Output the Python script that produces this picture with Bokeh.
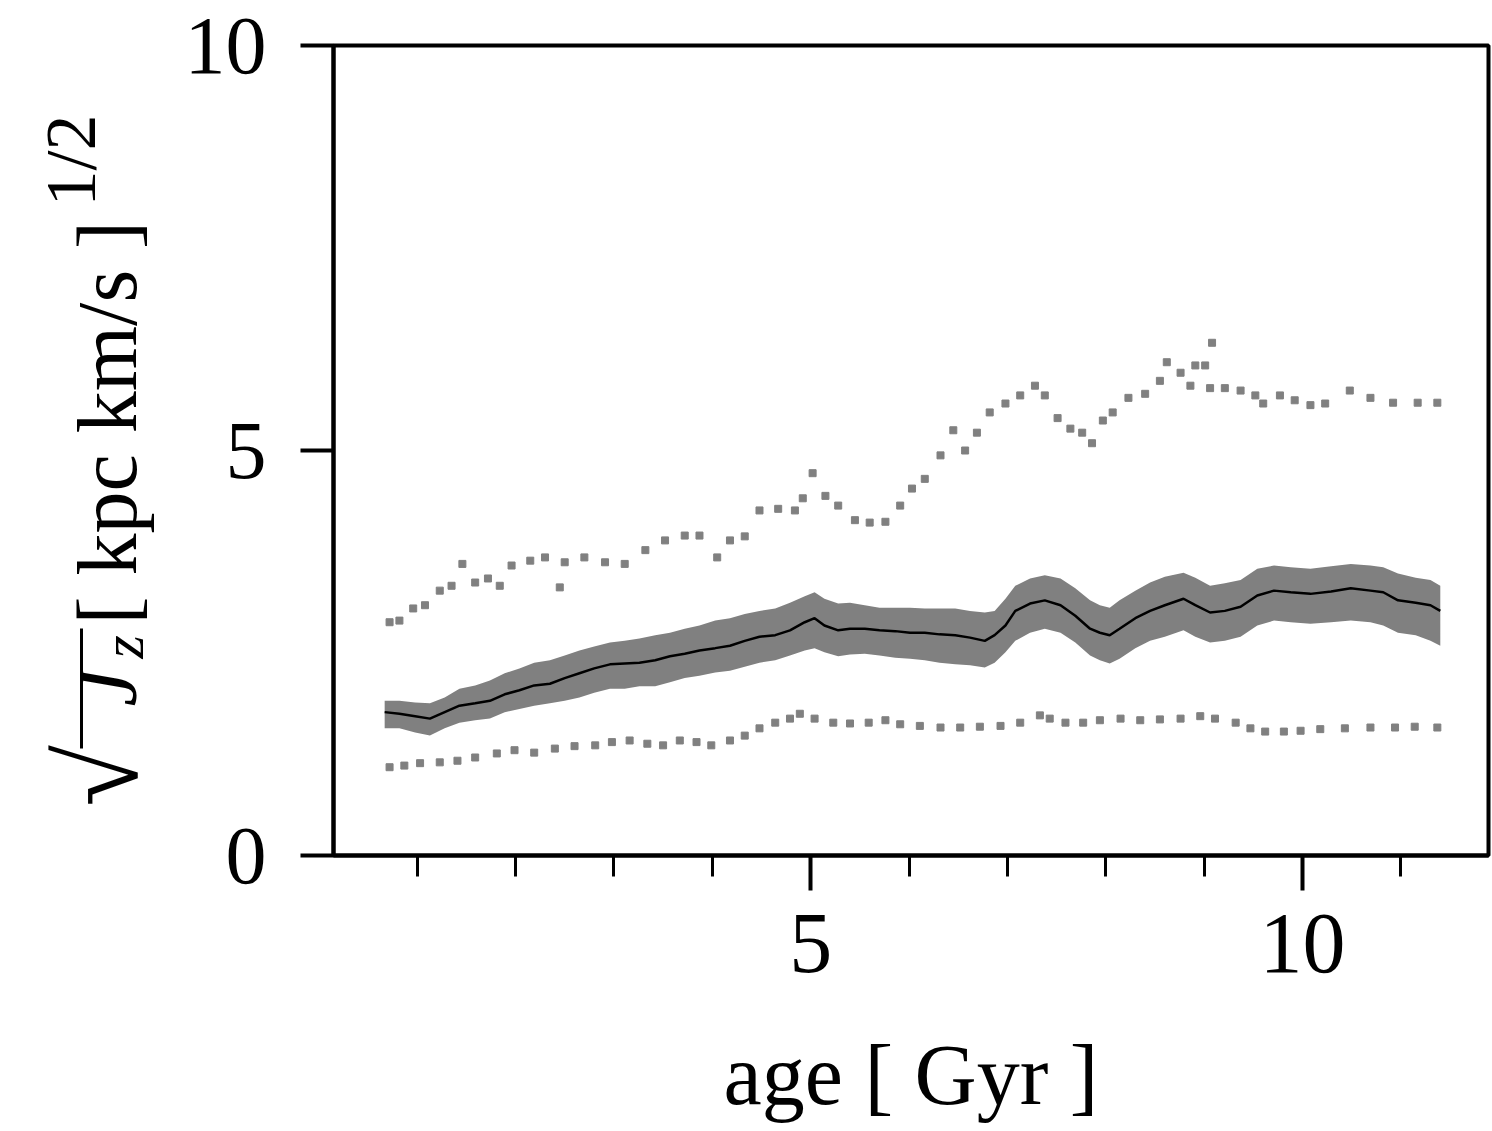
import math
from bokeh.plotting import figure
from bokeh.layouts import row
from bokeh.models import FixedTicker, Range1d
from bokeh.core.properties import value
from bokeh.embed import file_html
from bokeh.resources import INLINE

# ---------------- data ----------------
age_med = [0.67, 0.82, 0.98, 1.13, 1.28, 1.43, 1.59, 1.74, 1.89, 2.04,
           2.19, 2.35, 2.50, 2.65, 2.80, 2.96, 3.11, 3.26, 3.42, 3.57,
           3.72, 3.87, 4.03, 4.18, 4.33, 4.48, 4.64, 4.79, 4.94, 5.04,
           5.14, 5.28, 5.40, 5.55, 5.70, 5.86, 6.01, 6.16, 6.31, 6.47,
           6.62, 6.77, 6.87, 6.98, 7.08, 7.23, 7.38, 7.54, 7.69, 7.84,
           7.94, 8.04, 8.14, 8.30, 8.45, 8.60, 8.79, 8.91, 9.06, 9.21,
           9.37, 9.54, 9.71, 9.88, 10.08, 10.29, 10.49, 10.69, 10.82, 10.97,
           11.15, 11.30, 11.40]
sqrtjz_med = [1.77, 1.75, 1.72, 1.69, 1.77, 1.85, 1.88, 1.91, 1.99, 2.04,
              2.10, 2.12, 2.19, 2.25, 2.31, 2.36, 2.37, 2.38, 2.41, 2.46,
              2.49, 2.53, 2.56, 2.59, 2.65, 2.70, 2.72, 2.78, 2.88, 2.93,
              2.84, 2.78, 2.80, 2.80, 2.78, 2.77, 2.75, 2.75, 2.73, 2.72,
              2.69, 2.65, 2.72, 2.84, 3.02, 3.11, 3.15, 3.09, 2.96, 2.80,
              2.75, 2.72, 2.80, 2.93, 3.02, 3.09, 3.17, 3.09, 3.00, 3.02,
              3.07, 3.21, 3.27, 3.25, 3.23, 3.26, 3.30, 3.27, 3.25, 3.15,
              3.12, 3.09, 3.02]
band_hi = [1.91, 1.91, 1.89, 1.88, 1.95, 2.06, 2.10, 2.16, 2.25, 2.31,
           2.38, 2.41, 2.47, 2.53, 2.58, 2.63, 2.65, 2.68, 2.72, 2.75,
           2.80, 2.84, 2.90, 2.93, 2.98, 3.02, 3.05, 3.12, 3.20, 3.25,
           3.17, 3.11, 3.12, 3.09, 3.06, 3.06, 3.06, 3.05, 3.05, 3.05,
           3.02, 3.00, 3.02, 3.17, 3.33, 3.42, 3.46, 3.42, 3.30, 3.15,
           3.09, 3.06, 3.15, 3.27, 3.37, 3.44, 3.49, 3.43, 3.33, 3.36,
           3.40, 3.54, 3.58, 3.56, 3.54, 3.57, 3.60, 3.58, 3.56, 3.48,
           3.43, 3.40, 3.33]
band_lo = [1.57, 1.57, 1.52, 1.48, 1.57, 1.64, 1.67, 1.69, 1.77, 1.81,
           1.85, 1.88, 1.91, 1.95, 2.01, 2.06, 2.06, 2.09, 2.09, 2.14,
           2.19, 2.22, 2.26, 2.28, 2.33, 2.38, 2.41, 2.47, 2.53, 2.56,
           2.51, 2.46, 2.48, 2.49, 2.47, 2.44, 2.43, 2.41, 2.38, 2.36,
           2.35, 2.32, 2.38, 2.51, 2.65, 2.75, 2.80, 2.75, 2.63, 2.47,
           2.41, 2.37, 2.43, 2.56, 2.65, 2.70, 2.78, 2.70, 2.63, 2.65,
           2.70, 2.84, 2.90, 2.88, 2.86, 2.88, 2.90, 2.88, 2.84, 2.75,
           2.72, 2.65, 2.59]

age_upper = [0.72, 0.82, 0.96, 1.08, 1.23, 1.35, 1.46, 1.59, 1.72, 1.84,
             1.96, 2.15, 2.30, 2.45, 2.50, 2.70, 2.91, 3.11, 3.32, 3.52,
             3.72, 3.87, 4.05, 4.18, 4.33, 4.48, 4.67, 4.84, 4.92, 5.02,
             5.15, 5.28, 5.45, 5.60, 5.76, 5.91, 6.03, 6.16, 6.32, 6.45,
             6.57, 6.69, 6.82, 6.98, 7.13, 7.28, 7.38, 7.51, 7.64, 7.76,
             7.86, 7.97, 8.07, 8.23, 8.40, 8.55, 8.62, 8.76, 8.86, 8.91,
             9.01, 9.06, 9.08, 9.21, 9.37, 9.52, 9.60, 9.77, 9.92, 10.08,
             10.23, 10.48, 10.69, 10.92, 11.17, 11.37]
sqrtjz_upper = [2.88, 2.90, 3.05, 3.09, 3.27, 3.33, 3.60, 3.37, 3.42, 3.33,
                3.58, 3.64, 3.68, 3.31, 3.62, 3.68, 3.62, 3.60, 3.77, 3.89,
                3.95, 3.95, 3.68, 3.89, 3.94, 4.26, 4.28, 4.26, 4.41, 4.72,
                4.44, 4.32, 4.14, 4.11, 4.12, 4.32, 4.53, 4.65, 4.94, 5.25,
                5.00, 5.22, 5.47, 5.58, 5.68, 5.80, 5.68, 5.40, 5.27, 5.22,
                5.09, 5.37, 5.47, 5.65, 5.70, 5.86, 6.09, 5.96, 5.80, 6.05,
                6.05, 5.77, 6.33, 5.77, 5.74, 5.68, 5.58, 5.68, 5.62, 5.56,
                5.58, 5.74, 5.65, 5.59, 5.59, 5.59]

age_lower = [0.72, 0.87, 1.03, 1.23, 1.41, 1.59, 1.81, 1.99, 2.19, 2.40,
             2.60, 2.81, 2.98, 3.16, 3.34, 3.50, 3.67, 3.84, 3.99, 4.18,
             4.33, 4.48, 4.64, 4.79, 4.89, 5.04, 5.23, 5.40, 5.59, 5.76,
             5.91, 6.11, 6.32, 6.52, 6.72, 6.93, 7.13, 7.33, 7.43, 7.59,
             7.77, 7.94, 8.15, 8.35, 8.55, 8.76, 8.96, 9.11, 9.32, 9.47,
             9.62, 9.81, 9.98, 10.18, 10.43, 10.69, 10.94, 11.14, 11.37]
sqrtjz_lower = [1.09, 1.11, 1.14, 1.15, 1.17, 1.21, 1.26, 1.30, 1.27, 1.32,
                1.35, 1.36, 1.40, 1.42, 1.38, 1.36, 1.42, 1.40, 1.36, 1.42,
                1.48, 1.57, 1.64, 1.69, 1.75, 1.69, 1.64, 1.63, 1.64, 1.67,
                1.62, 1.60, 1.58, 1.58, 1.59, 1.60, 1.64, 1.73, 1.69, 1.64,
                1.64, 1.67, 1.69, 1.67, 1.68, 1.69, 1.72, 1.69, 1.64, 1.57,
                1.53, 1.53, 1.54, 1.56, 1.57, 1.58, 1.58, 1.59, 1.58]

x_major_ticks = [5, 10]
x_minor_ticks = [1, 2, 3, 4, 5, 6, 7, 8, 9, 10, 11]
y_major_ticks = [0, 5, 10]

# y-axis label pieces
ylabel_parts = ["\u221a", "J", "z", "[ kpc km/s ]", "1/2"]

# ---------------- layout ----------------
FONT = "Liberation Serif"
W, H = 1492, 1131
LW = 172                      # width of the strip that holds the y label
L, R, T, B = 333, 1488, 45, 855
X0, X1, Y0, Y1 = 0.15, 11.89, 0.0, 10.0
GREY = "#808080"

p = figure(frame_width=R - L, frame_height=B - T,
           min_border_left=L - LW, min_border_right=W - R,
           min_border_top=T, min_border_bottom=H - B,
           x_range=Range1d(X0, X1), y_range=Range1d(Y0, Y1),
           output_backend="svg", toolbar_location=None)

p.xgrid.visible = False
p.ygrid.visible = False
p.outline_line_color = "black"
p.outline_line_width = 4
p.background_fill_color = "white"
p.border_fill_color = "white"

xa = p.xaxis[0]
xa.ticker = FixedTicker(ticks=x_major_ticks, minor_ticks=x_minor_ticks)
xa.axis_line_width = 4
xa.major_tick_line_width = 4
xa.minor_tick_line_width = 3
xa.major_tick_in = 0
xa.major_tick_out = 35
xa.minor_tick_in = 0
xa.minor_tick_out = 21
xa.major_label_text_font = FONT
xa.major_label_text_font_size = "86px"
xa.major_label_text_color = "black"
xa.major_label_standoff = 24
xa.axis_label = "age [ Gyr ]"
xa.axis_label_text_font = FONT
xa.axis_label_text_font_size = "86px"
xa.axis_label_text_font_style = "normal"
xa.axis_label_text_color = "black"
xa.axis_label_standoff = 52

ya = p.yaxis[0]
ya.ticker = FixedTicker(ticks=y_major_ticks, minor_ticks=[])
ya.axis_line_width = 4
ya.major_tick_line_width = 4
ya.major_tick_in = 0
ya.major_tick_out = 33
ya.minor_tick_out = 0
ya.minor_tick_in = 0
ya.major_label_text_font = FONT
ya.major_label_text_font_size = "82px"
ya.major_label_text_color = "black"
ya.major_label_standoff = 34
ya.major_label_orientation = "horizontal"
ya.axis_label = None

# ---------------- glyphs ----------------
p.varea(x=age_med, y1=band_lo, y2=band_hi, fill_color=GREY, fill_alpha=1.0)
p.line(age_med, sqrtjz_med, line_color="black", line_width=2.5)
p.scatter(age_upper, sqrtjz_upper, marker="square", size=7,
          fill_color=GREY, line_color=GREY)
p.scatter(age_lower, sqrtjz_lower, marker="square", size=7,
          fill_color=GREY, line_color=GREY)

# ---------------- y-axis label strip (pixel coordinates, frame aligned with p) ----------------
lab = figure(frame_width=LW, frame_height=B - T,
             min_border_left=0, min_border_right=0,
             min_border_top=T, min_border_bottom=H - B,
             x_range=Range1d(0, LW), y_range=Range1d(H - B, H - T),
             x_axis_type=None, y_axis_type=None,
             output_backend="svg", toolbar_location=None)
lab.xgrid.visible = False
lab.ygrid.visible = False
lab.outline_line_color = None
lab.background_fill_color = "white"
lab.border_fill_color = "white"

def piece(text, cx, by, size, style="normal"):
    # cx: screen x of the text's vertical middle; by: screen y where the text starts
    lab.text(x=[cx], y=[H - by], text=[text], angle=math.pi / 2,
             text_align="left", text_baseline="middle",
             text_font=value(FONT), text_font_size=size,
             text_font_style=style, text_color="black")

piece(ylabel_parts[0], 98, 806, "112px")
piece(ylabel_parts[1], 107, 706, "84px", "italic")
piece(ylabel_parts[2], 122, 658, "60px", "italic")
piece(ylabel_parts[3], 107, 624, "84px")
piece(ylabel_parts[4], 70, 206, "72px")
# vinculum of the square root
lab.segment(x0=[81], y0=[H - 748], x1=[81], y1=[H - 628],
            line_color="black", line_width=3)

layout = row(lab, p, spacing=0)
open("out.html", "w").write(file_html(layout, INLINE))
